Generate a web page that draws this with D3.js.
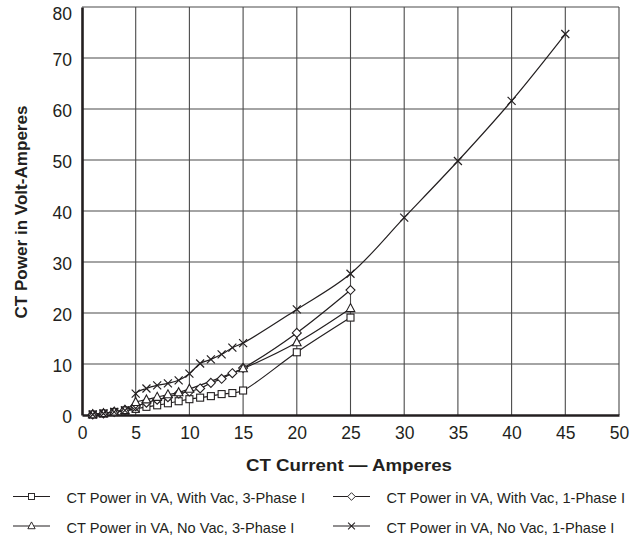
<!DOCTYPE html>
<html>
<head>
<meta charset="utf-8">
<script src="https://cdn.jsdelivr.net/npm/d3@7"></script>
<style>
  body { margin: 0; background: #fff; }
  svg text { font-family: "Liberation Sans", Arial, sans-serif; fill: #231f20; }
</style>
</head>
<body>
<div id="chart"></div>
<script>
// data (x = CT current in A, y = VA)
const xTicks = [0, 5, 10, 15, 20, 25, 30, 35, 40, 45, 50]
const yTicks = [0, 10, 20, 30, 40, 50, 60, 70, 80]

const withVac3 = [[1,0.1],[2,0.3],[3,0.6],[4,0.9],[5,1.2],[6,1.6],[7,1.9],[8,2.3],[9,2.7],[10,3.1],
    [11,3.4],[12,3.7],[13,4.1],[14,4.3],[15,4.8],[20,12.3],[25,19.1]]
const withVac1 = [[1,0.1],[2,0.3],[3,0.6],[4,1.0],[5,1.7],[6,2.4],[7,3.0],[8,3.5],[9,4.2],[10,4.6],
    [11,5.2],[12,6.3],[13,7.1],[14,8.2],[15,9.2],[20,16.1],[25,24.5]]
const noVac3 = [[1,0.1],[2,0.3],[3,0.6],[4,0.9],[5,2.5],[6,3.0],[7,3.5],[8,4.0],[9,4.4],[10,5.1],
    [15,9.1],[20,14.2],[25,20.9]]
const noVac1 = [[1,0.1],[2,0.3],[3,0.6],[4,0.9],[5,1.3],[5,4.2],[6,5.2],[7,5.8],[8,6.2],[9,6.8],[10,8.1],
    [11,10.1],[12,10.9],[13,11.9],[14,13.2],[15,14.1],[20,20.7],[25,27.7],[30,38.7],[35,49.8],[40,61.6],[45,74.7]]

const seriesNames = ["CT Power in VA, With Vac, 3-Phase I", "CT Power in VA, With Vac, 1-Phase I",
    "CT Power in VA, No Vac, 3-Phase I", "CT Power in VA, No Vac, 1-Phase I"]
const seriesData = [withVac3, withVac1, noVac3, noVac1]
const seriesMarks = ["square", "diamond", "triangle", "cross"]

var W = 638, H = 538
var margin = {top: 7, right: 19, bottom: 123, left: 82},
    width = W - margin.left - margin.right,
    height = H - margin.top - margin.bottom;

var svg = d3.select("#chart").append("svg")
    .attr("width", W).attr("height", H)

var g = svg.append("g")
    .attr("transform", "translate(" + margin.left + "," + margin.top + ")");

var x = d3.scaleLinear().domain([0, 50]).range([0, width])
var y = d3.scaleLinear().domain([0, 80]).range([height, 0])

// grid
g.selectAll(".vgrid").data(xTicks.slice(1)).enter().append("line")
    .attr("x1", d => x(d)).attr("x2", d => x(d))
    .attr("y1", 0).attr("y2", height)
    .attr("stroke", "#4a4a4a").attr("stroke-width", 1.1)
g.selectAll(".hgrid").data(yTicks.slice(1)).enter().append("line")
    .attr("x1", 0).attr("x2", width)
    .attr("y1", d => y(d)).attr("y2", d => y(d))
    .attr("stroke", "#4a4a4a").attr("stroke-width", 1.1)

// axes
var xAxis = g.append("g")
    .attr("transform", "translate(0," + height + ")")
    .call(d3.axisBottom(x).tickValues(xTicks).tickSize(0).tickPadding(12))
xAxis.select(".domain").attr("stroke", "#231f20").attr("stroke-width", 2.6)
xAxis.selectAll("text").style("font-size", "17.5px")

var yAxis = g.append("g")
    .call(d3.axisLeft(y).tickValues(yTicks).tickSize(0).tickPadding(10))
yAxis.select(".domain").attr("stroke", "#231f20").attr("stroke-width", 2.6)
yAxis.selectAll("text").style("font-size", "17.5px").attr("dy", "0.42em")
yAxis.selectAll(".tick").filter(d => d === 80).select("text").attr("dy", "0.72em")

// titles
svg.append("text")
    .attr("x", 349).attr("y", 471)
    .attr("text-anchor", "middle")
    .attr("textLength", 206).attr("lengthAdjust", "spacingAndGlyphs")
    .style("font-size", "16.5px").style("font-weight", "bold")
    .text("CT Current \u2014 Amperes")

svg.append("text")
    .attr("transform", "translate(27,212) rotate(-90)")
    .attr("text-anchor", "middle")
    .attr("textLength", 213).attr("lengthAdjust", "spacingAndGlyphs")
    .style("font-size", "16.5px").style("font-weight", "bold")
    .text("CT Power in Volt-Amperes")

// lines
var line = d3.line()
    .x(d => x(d[0])).y(d => y(d[1]))
    .curve(d3.curveCatmullRom.alpha(0.5))

function drawMark(sel, type) {
    if (type === "square") {
        sel.append("rect").attr("x", -3.5).attr("y", -3.5).attr("width", 7).attr("height", 7)
            .attr("fill", "#fff").attr("stroke", "#231f20").attr("stroke-width", 1.1)
    } else if (type === "diamond") {
        sel.append("path").attr("d", "M0,-4.5L4.5,0L0,4.5L-4.5,0Z")
            .attr("fill", "#fff").attr("stroke", "#231f20").attr("stroke-width", 1.1)
    } else if (type === "triangle") {
        sel.append("path").attr("d", "M0,-4.8L4.3,3.2L-4.3,3.2Z")
            .attr("fill", "#fff").attr("stroke", "#231f20").attr("stroke-width", 1.1)
    } else {
        sel.append("path").attr("d", "M-4,-4L4,4M-4,4L4,-4")
            .attr("fill", "none").attr("stroke", "#231f20").attr("stroke-width", 1.2)
    }
}

seriesData.forEach(function(data, i) {
    g.append("path").datum(data)
        .attr("d", line)
        .attr("fill", "none").attr("stroke", "#231f20").attr("stroke-width", 1.2)
})
seriesData.forEach(function(data, i) {
    g.selectAll(".m" + i).data(data).enter().append("g")
        .attr("transform", d => "translate(" + x(d[0]) + "," + y(d[1]) + ")")
        .each(function() { drawMark(d3.select(this), seriesMarks[i]) })
})

// legend
var legPos = [[13, 496.5], [333, 496.5], [13, 526], [333, 526]]
seriesNames.forEach(function(name, i) {
    var lg = svg.append("g").attr("transform", "translate(" + legPos[i][0] + "," + legPos[i][1] + ")")
    lg.append("line").attr("x1", 0).attr("x2", 37).attr("y1", 0).attr("y2", 0)
        .attr("stroke", "#231f20").attr("stroke-width", 1.2)
    var mk = lg.append("g").attr("transform", "translate(18.5,0) scale(0.85)")
    drawMark(mk, seriesMarks[i])
    lg.append("text").attr("x", 53.5).attr("y", 1.5).attr("dy", "0.35em")
        .style("font-size", "14.6px")
        .text(name)
})
</script>
</body>
</html>
